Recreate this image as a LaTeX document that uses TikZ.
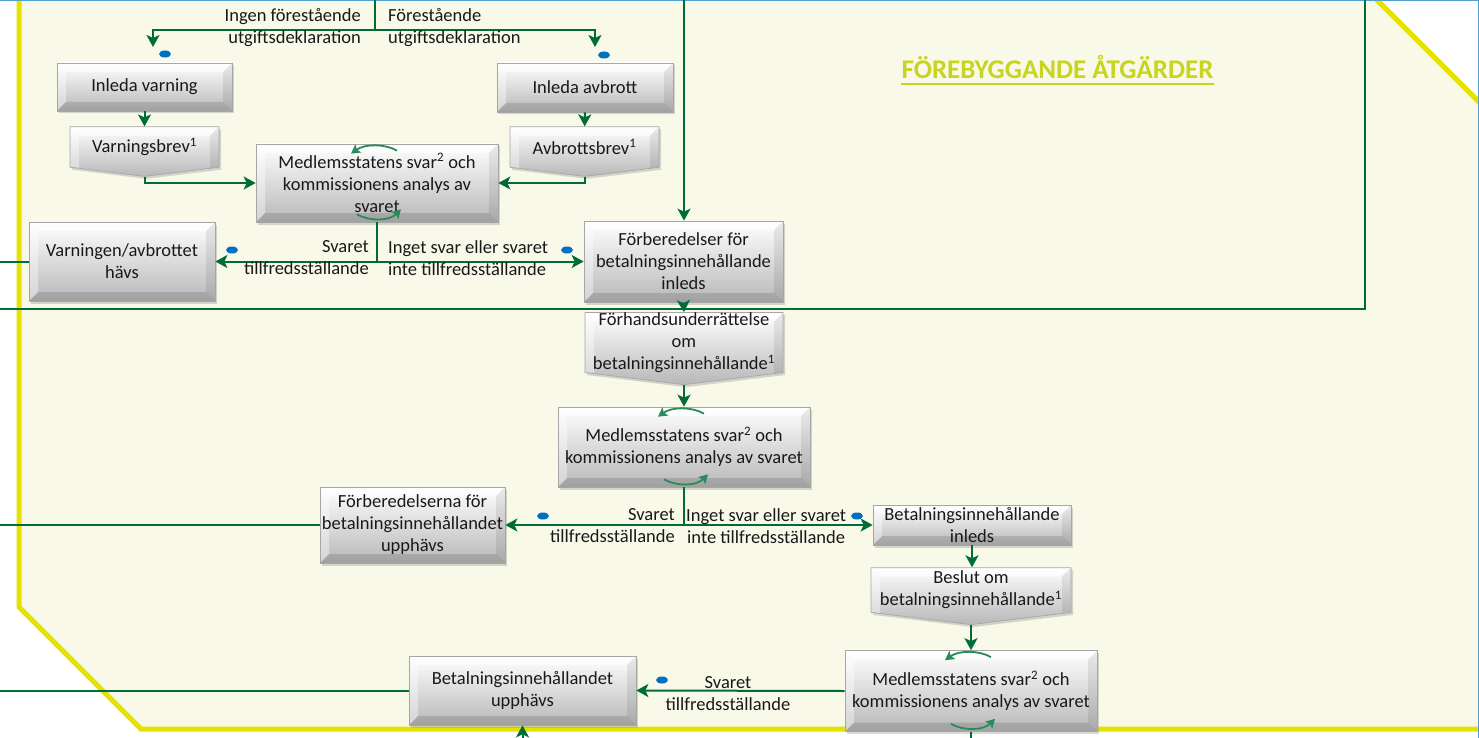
\documentclass[tikz,border=0pt]{standalone}
\usepackage{fontspec}
\setmainfont{Carlito}
\usepackage{tikz}
\usetikzlibrary{shapes.symbols}
\usetikzlibrary{arrows.meta,shadows}

\definecolor{gron}{RGB}{0,108,56}
\definecolor{ljusgron}{RGB}{40,140,90}
\definecolor{gul}{RGB}{230,226,0}
\definecolor{titelgul}{RGB}{200,212,30}
\definecolor{kram}{RGB}{248,249,232}
\definecolor{bla}{RGB}{0,112,192}
\definecolor{ram}{RGB}{80,160,210}

\begin{document}
\begin{tikzpicture}[x=1pt,y=-1pt,
	every node/.style={font=\fontsize{18.5}{22}\selectfont,text=black!90},
	etape/.style={rectangle,align=center,inner sep=1pt,top color=white,bottom color=black!28,draw=black!35,line width=0.7pt,
		drop shadow={shadow xshift=2pt,shadow yshift=-2.5pt,opacity=0.3},path picture={\fasetter}},
	brev/.style={signal,signal to=south,signal from=nowhere,signal pointer angle=166,align=center,inner sep=1pt,
		top color=white,bottom color=black!28,draw=black!35,line width=0.7pt,
		drop shadow={shadow xshift=2pt,shadow yshift=-2.5pt,opacity=0.3},path picture={\fasetterbrev}},
	linje/.style={draw=gron,line width=2pt},
	pil/.style={linje,-{Stealth[length=12pt,width=13pt,inset=3pt]}},
	cirkelpil/.style={draw=ljusgron,line width=1.8pt,-{Stealth[length=9pt,width=10pt,inset=2pt]}},
	etikett/.style={inner sep=0pt}]

	\def\fasetter{%
		\coordinate (nv) at (path picture bounding box.north west);
		\coordinate (no) at (path picture bounding box.north east);
		\coordinate (sv) at (path picture bounding box.south west);
		\coordinate (so) at (path picture bounding box.south east);
		\fill[white,opacity=0.6] (nv) -- (no) -- ([shift={(-9pt,-9pt)}]no) -- ([shift={(9pt,-9pt)}]nv) -- cycle;
		\fill[white,opacity=0.4] (nv) -- (sv) -- ([shift={(9pt,9pt)}]sv) -- ([shift={(9pt,-9pt)}]nv) -- cycle;
		\fill[black,opacity=0.08] (no) -- (so) -- ([shift={(-9pt,9pt)}]so) -- ([shift={(-9pt,-9pt)}]no) -- cycle;
		\fill[black,opacity=0.12] (sv) -- (so) -- ([shift={(-9pt,9pt)}]so) -- ([shift={(9pt,9pt)}]sv) -- cycle;}
	\def\fasetterbrev{%
		\coordinate (nv) at (path picture bounding box.north west);
		\coordinate (no) at (path picture bounding box.north east);
		\coordinate (sv) at (path picture bounding box.south west);
		\coordinate (so) at (path picture bounding box.south east);
		\fill[white,opacity=0.6] (nv) -- (no) -- ([shift={(-9pt,-9pt)}]no) -- ([shift={(9pt,-9pt)}]nv) -- cycle;
		\fill[white,opacity=0.4] (nv) -- (sv) -- ([shift={(9pt,0pt)}]sv) -- ([shift={(9pt,-9pt)}]nv) -- cycle;
		\fill[black,opacity=0.08] (no) -- (so) -- ([shift={(-9pt,0pt)}]so) -- ([shift={(-9pt,-9pt)}]no) -- cycle;}
	\def\svarpilar#1{%
		\draw[cirkelpil] ([shift={(20pt,-7pt)}]#1.north) .. controls ([shift={(8pt,0pt)}]#1.north) and ([shift={(-12pt,0pt)}]#1.north) .. ([shift={(-26pt,-10pt)}]#1.north);
		\draw[cirkelpil] ([shift={(-20pt,8pt)}]#1.south) .. controls ([shift={(-8pt,1pt)}]#1.south) and ([shift={(12pt,1pt)}]#1.south) .. ([shift={(24pt,13pt)}]#1.south);}

\useasboundingbox (0,0) rectangle (1479,738);

%Bakgrund
\fill[white] (0,0) rectangle (1479,738);
\filldraw[fill=kram,draw=gul,line width=5pt] (19,-10) -- (19,607) -- (141,729) -- (1490,729) -- (1490,113) -- (1367,-10) -- cycle;
\draw[ram,line width=1.5pt] (0,0.75) -- (1478.25,0.75) -- (1478.25,738);
\draw[linje] (-2,309) -- (1365,309) -- (1365,-2);

%Rubrik
\node[inner sep=0pt,anchor=base,text=titelgul,font=\fontsize{27}{32}\selectfont\bfseries] (rubrik) at (1057.5,79) {FÖREBYGGANDE ÅTGÄRDER};
\draw[titelgul,line width=2.5pt] ([yshift=-5pt]rubrik.base west) -- ([yshift=-5pt]rubrik.base east);

%Kanter
\coordinate (kant) at (-2,0);
\coordinate (botten) at (0,740);
\coordinate (topp) at (375,0);
\coordinate (delning) at (375,30);
\coordinate (vpil) at (153,47);
\coordinate (apil) at (595,47);
\coordinate (ovan) at (684,0);

%Steg
\node[etape,minimum width=175,minimum height=48] (varning) at (144.5,87) {Inleda varning};
\node[brev,minimum width=149,minimum height=47] (vbrev) at (144.5,147) {Varningsbrev\textsuperscript{1}};
\node[etape,minimum width=176,minimum height=49] (avbrott) at (585,87.5) {Inleda avbrott};
\node[brev,minimum width=149,minimum height=47] (abrev) at (584.5,147) {Avbrottsbrev\textsuperscript{1}};
\node[etape,minimum width=242,minimum height=78] (svar1) at (377,183) {Medlemsstatens svar\textsuperscript{2} och\\kommissionens analys av\\svaret};
\node[etape,minimum width=186,minimum height=79] (havs) at (122,261.5) {Varningen/avbrottet\\hävs};
\node[etape,minimum width=199,minimum height=81] (forb) at (683.5,261.5) {Förberedelser för\\betalningsinnehållande\\inleds};
\node[brev,minimum width=198,minimum height=59,inner ysep=0pt] (forh) at (684,342.5) {Förhandsunderrättelse\\om\\betalningsinnehållande\textsuperscript{1}};
\node[etape,minimum width=252,minimum height=80] (svar2) at (684,447) {Medlemsstatens svar\textsuperscript{2} och\\kommissionens analys av svaret};
\node[etape,minimum width=185,minimum height=76] (upph1) at (412.5,525) {Förberedelserna för\\betalningsinnehållandet\\upphävs};
\node[etape,minimum width=198,minimum height=40,inner ysep=0pt] (inleds) at (972,525) {Betalningsinnehållande\\inleds};
\node[brev,minimum width=200,minimum height=56,inner ysep=0pt] (beslut) at (971,590) {Beslut om\\betalningsinnehållande\textsuperscript{1}};
\node[etape,minimum width=252,minimum height=81] (svar3) at (971,691) {Medlemsstatens svar\textsuperscript{2} och\\kommissionens analys av svaret};
\node[etape,minimum width=227,minimum height=69] (upph2) at (522.5,690.5) {Betalningsinnehållandet\\upphävs};

%Pilar
\draw[linje] (topp) -- (delning);
\draw[pil] (delning) -| (vpil);
\draw[pil] (delning) -| (apil);
\draw[pil] (varning) -- (vbrev);
\draw[pil] (avbrott) -- (abrev);
\draw[pil] (vbrev.south) |- (svar1.west);
\draw[pil] (abrev.south) |- (svar1.east);
\draw[pil] (ovan) -- (ovan |- forb.north);
\draw[pil] (svar1.south) |- (havs.east);
\draw[pil] (svar1.south) |- (forb.west);
\draw[linje] (havs.west) -- (havs.west -| kant);
\draw[pil] (forb.south) -- (forh.north);
\draw[pil] (forh.south) -- (svar2.north);
\draw[pil] (svar2.south) |- (upph1.east);
\draw[pil] (svar2.south) |- (inleds.west);
\draw[linje] (upph1.west) -- (upph1.west -| kant);
\draw[pil] (inleds.south) -- (inleds.south |- beslut.north);
\draw[pil] (beslut.south) -- (beslut.south |- svar3.north);
\draw[pil] (svar3.west) -- (upph2.east);
\draw[linje] (upph2.west) -- (upph2.west -| kant);
\draw[pil] (upph2.south |- botten) -- (upph2.south);
\draw[linje] (svar3.south) -- (svar3.south |- botten);

%Etiketter
\node[etikett,anchor=east,align=right] (ingen) at (361,28) {Ingen förestående\\utgiftsdeklaration};
\node[etikett,anchor=west,align=left] (forest) at (388,28) {Förestående\\utgiftsdeklaration};
\node[etikett,anchor=east,align=right] (ok1) at (369,258) {Svaret\\tillfredsställande};
\node[etikett,anchor=west,align=left] (ejok1) at (388,258) {Inget svar eller svaret\\inte tillfredsställande};
\node[etikett,anchor=east,align=right] (ok2) at (675,526) {Svaret\\tillfredsställande};
\node[etikett,anchor=west,align=center] (ejok2) at (686,526) {Inget svar eller svaret\\inte tillfredsställande};
\node[etikett,align=center] (ok3) at (728,694) {Svaret\\tillfredsställande};

%Punkter
\foreach \x/\y in {165/54,604/55,232/250,567/250,543/516,857/516,662/680}
	\fill[bla] (\x,\y) ellipse (6 and 3.5);

%Cirkelpilar
\svarpilar{svar1}
\svarpilar{svar2}
\svarpilar{svar3}

\end{tikzpicture}
\end{document}
